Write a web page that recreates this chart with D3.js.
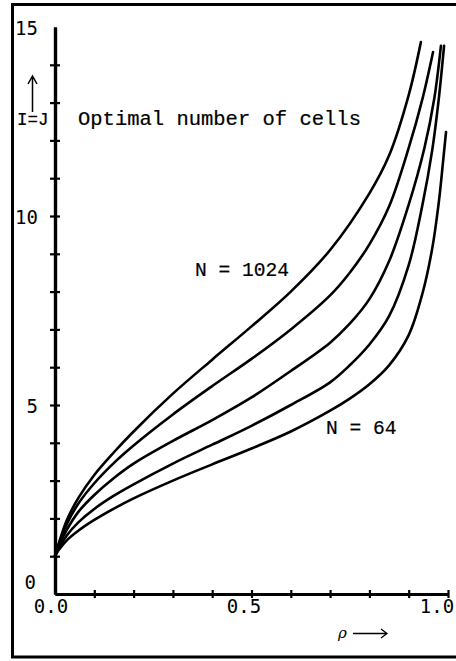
<!DOCTYPE html>
<html>
<head>
<meta charset="utf-8">
<script src="https://cdn.jsdelivr.net/npm/d3@7/dist/d3.min.js"></script>
<style>
  html, body { margin: 0; padding: 0; background: #fff; }
  svg { display: block; }
</style>
</head>
<body>
<svg id="chart" width="456" height="661"></svg>
<script>
// ---- data ----
const seriesNames = ["N = 1024", "N = 512", "N = 256", "N = 128", "N = 64"];

const rho1024 = [0, 0.01, 0.03, 0.06, 0.1, 0.15, 0.2, 0.3, 0.4, 0.5, 0.6, 0.7, 0.8, 0.85, 0.9, 0.931];
const val1024 = [1.0, 1.35, 1.95, 2.55, 3.15, 3.75, 4.3, 5.3, 6.2, 7.08, 8.0, 9.1, 10.6, 11.6, 13.2, 14.6];

const rho512 = [0, 0.01, 0.03, 0.06, 0.1, 0.15, 0.2, 0.3, 0.4, 0.5, 0.6, 0.7, 0.75, 0.8, 0.85, 0.9, 0.935, 0.962];
const val512 = [1.0, 1.32, 1.85, 2.4, 2.93, 3.47, 3.93, 4.75, 5.5, 6.22, 7.0, 7.9, 8.5, 9.25, 10.25, 11.8, 13.1, 14.34];

const rho256 = [0, 0.01, 0.03, 0.06, 0.1, 0.15, 0.2, 0.3, 0.4, 0.5, 0.6, 0.7, 0.75, 0.8, 0.85, 0.9, 0.94, 0.965, 0.982];
const val256 = [1.0, 1.28, 1.7, 2.18, 2.62, 3.07, 3.45, 4.05, 4.6, 5.2, 5.9, 6.65, 7.15, 7.8, 8.8, 10.3, 11.8, 13.1, 14.5];

const rho128 = [0, 0.01, 0.03, 0.06, 0.1, 0.15, 0.2, 0.3, 0.4, 0.5, 0.6, 0.7, 0.75, 0.8, 0.85, 0.9, 0.935, 0.96, 0.976, 0.99];
const val128 = [1.0, 1.22, 1.55, 1.9, 2.25, 2.6, 2.9, 3.45, 3.95, 4.45, 5.0, 5.6, 6.05, 6.6, 7.35, 8.7, 10.3, 11.75, 13.05, 14.5];

const rho64 = [0, 0.01, 0.03, 0.06, 0.1, 0.15, 0.2, 0.3, 0.4, 0.5, 0.6, 0.7, 0.75, 0.8, 0.85, 0.9, 0.935, 0.96, 0.977, 0.988, 0.995];
const val64 = [1.0, 1.17, 1.42, 1.68, 1.96, 2.26, 2.53, 3.0, 3.43, 3.85, 4.3, 4.85, 5.17, 5.55, 6.05, 6.85, 7.95, 9.15, 10.4, 11.5, 12.22];

const xTickValues = [0.1, 0.2, 0.3, 0.4, 0.5, 0.6, 0.7, 0.8, 0.9, 1.0];
const xTickLabels = ["0.0", "0.5", "1.0"];
const yTickValues = [1, 2, 3, 4, 5, 6, 7, 8, 9, 10, 11, 12, 13, 14];
const yTickLabels = ["0", "5", "10", "15"];

const title = "Optimal number of cells";
const yName = "I=J";
const xName = "\u03C1";

// ---- build ----
const series = [
  { name: seriesNames[0], rho: rho1024, val: val1024 },
  { name: seriesNames[1], rho: rho512, val: val512 },
  { name: seriesNames[2], rho: rho256, val: val256 },
  { name: seriesNames[3], rho: rho128, val: val128 },
  { name: seriesNames[4], rho: rho64, val: val64 }
].map(s => ({ name: s.name, pts: s.rho.map((r, i) => [r, s.val[i]]) }));

const svg = d3.select("#chart");
const x = d3.scaleLinear().domain([0, 1]).range([55, 448]);
const y = d3.scaleLinear().domain([0, 15]).range([594, 27]);

const ink = "#000";
const typeFont = "'Liberation Mono', 'Courier New', monospace";
const tickFont = "'DejaVu Sans Mono', monospace";

// frame
svg.append("path")
  .attr("d", "M456,4.5 H12.5 V657 H456")
  .attr("fill", "none").attr("stroke", ink).attr("stroke-width", 3);

// y axis: crossed ticks on both sides
const yAxisL = d3.axisLeft(y).tickValues(yTickValues).tickSize(5).tickSizeOuter(0).tickFormat("");
const yAxisR = d3.axisRight(y).tickValues(yTickValues).tickSize(5).tickSizeOuter(0).tickFormat("");
[yAxisL, yAxisR].forEach(ax => {
  const g = svg.append("g").attr("transform", `translate(${x(0)},0)`).call(ax);
  g.select(".domain").attr("stroke", ink).attr("stroke-width", 3.2);
  g.selectAll(".tick line").attr("stroke", ink).attr("stroke-width", 2.2);
});

// x axis: crossed ticks
const xAxisB = d3.axisBottom(x).tickValues(xTickValues).tickSize(4).tickSizeOuter(0).tickFormat("");
const xAxisT = d3.axisTop(x).tickValues(xTickValues).tickSize(4).tickSizeOuter(0).tickFormat("");
[xAxisB, xAxisT].forEach(ax => {
  const g = svg.append("g").attr("transform", `translate(0,${y(0)})`).call(ax);
  g.select(".domain").attr("stroke", ink).attr("stroke-width", 3.2);
  g.selectAll(".tick line").attr("stroke", ink).attr("stroke-width", 2.2);
});

// tick labels
svg.append("g").selectAll("text").data(xTickLabels).join("text")
  .attr("x", d => x(+d) - 4 - 7 * (+d))
  .attr("y", y(0) + 19)
  .attr("text-anchor", "middle")
  .attr("font-family", tickFont).attr("font-size", 19)
  .attr("fill", ink)
  .text(d => d);

svg.append("g").selectAll("text").data(yTickLabels).join("text")
  .attr("x", d => +d === 0 ? 36 : 38)
  .attr("y", d => y(+d) + (+d === 0 ? -12 : 1))
  .attr("dy", "0.35em")
  .attr("text-anchor", "end")
  .attr("font-family", tickFont).attr("font-size", 19)
  .attr("fill", ink)
  .text(d => d);

// curves
const line = d3.line().x(d => x(d[0])).y(d => y(d[1])).curve(d3.curveCatmullRom.alpha(0.5));
svg.append("g").selectAll("path").data(series).join("path")
  .attr("d", d => line(d.pts))
  .attr("fill", "none").attr("stroke", ink).attr("stroke-width", 2.6)
  .attr("stroke-linecap", "round").attr("stroke-linejoin", "round");

// title and labels
const typeText = sel => sel.attr("font-family", typeFont).attr("fill", ink)
  .attr("stroke", ink).attr("stroke-width", 0.2);

svg.append("text")
  .attr("x", 78).attr("y", 125)
  .attr("font-size", 20.5)
  .call(typeText).text(title);

svg.append("text")
  .attr("x", 17).attr("y", 125)
  .attr("font-size", 17.5)
  .call(typeText).text(yName);

// up arrow above I=J
svg.append("path")
  .attr("d", "M32.5,112 V76 M28,84 L32.5,76 L37,84")
  .attr("fill", "none").attr("stroke", ink).attr("stroke-width", 1.5);

// series labels
svg.append("text")
  .attr("x", 195).attr("y", 276)
  .attr("font-size", 19.6)
  .call(typeText).text(seriesNames[0]);

svg.append("text")
  .attr("x", 326).attr("y", 434)
  .attr("font-size", 19.6)
  .call(typeText).text(seriesNames[4]);

// rho ->
svg.append("text")
  .attr("x", 338).attr("y", 638)
  .attr("font-family", "'DejaVu Serif', serif").attr("font-style", "italic").attr("font-size", 15)
  .attr("fill", ink).text(xName);

svg.append("path")
  .attr("d", "M353,633.5 H387 M381,629 L387,633.5 L381,638")
  .attr("fill", "none").attr("stroke", ink).attr("stroke-width", 1.3);
</script>
</body>
</html>
